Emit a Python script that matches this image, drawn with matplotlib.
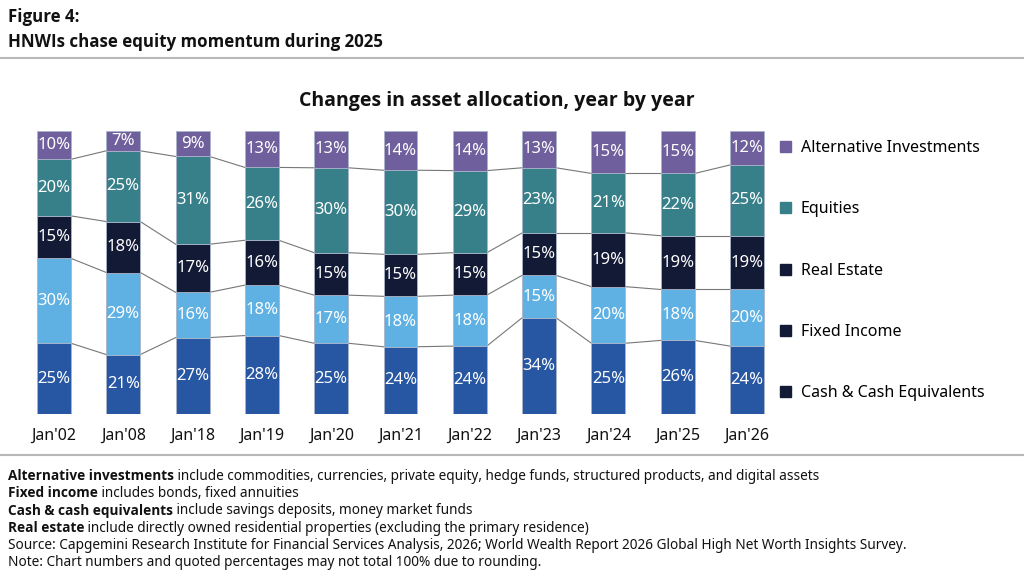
import numpy as np
import matplotlib
matplotlib.use("Agg")
import matplotlib.pyplot as plt
from matplotlib.patches import Patch

plt.rcParams['font.family'] = ['Noto Sans', 'DejaVu Sans']
BOLD = ['Open Sans', 'Lato', 'DejaVu Sans']

# -- data (bottom to top of each stack)
years = ["Jan'02", "Jan'08", "Jan'18", "Jan'19", "Jan'20", "Jan'21", "Jan'22", "Jan'23", "Jan'24", "Jan'25", "Jan'26"]
cash = [25, 21, 27, 28, 25, 24, 24, 34, 25, 26, 24]
fixed_income = [30, 29, 16, 18, 17, 18, 18, 15, 20, 18, 20]
real_estate = [15, 18, 17, 16, 15, 15, 15, 15, 19, 19, 19]
equities = [20, 25, 31, 26, 30, 30, 29, 23, 21, 22, 25]
alternatives = [10, 7, 9, 13, 13, 14, 14, 13, 15, 15, 12]

series_names = ['Cash & Cash Equivalents', 'Fixed Income', 'Real Estate', 'Equities', 'Alternative Investments']
colors = ['#2756a3', '#5fb1e3', '#131a35', '#37808a', '#6f5f9c']
legend_colors = ['#131a35', '#131a35', '#131a35', '#37808a', '#6f5f9c']  # as in the original legend

footnotes = [
    ("Alternative investments", " include commodities, currencies, private equity, hedge funds, structured products, and digital assets"),
    ("Fixed income", " includes bonds, fixed annuities"),
    ("Cash & cash equivalents", " include savings deposits, money market funds"),
    ("Real estate", " include directly owned residential properties (excluding the primary residence)"),
    ("", "Source: Capgemini Research Institute for Financial Services Analysis, 2026; World Wealth Report 2026 Global High Net Worth Insights Survey."),
    ("", "Note: Chart numbers and quoted percentages may not total 100% due to rounding."),
]

W, H = 1024, 583
fig = plt.figure(figsize=(W / 100, H / 100), dpi=100)

def fy(py):
    return 1 - py / H

ax = fig.add_axes([19.35 / W, fy(414), 762.3 / W, (414 - 131) / H])

data = np.array([cash, fixed_income, real_estate, equities, alternatives], dtype=float)
share = data / data.sum(axis=0) * 100  # stacks fill 100%
x = np.arange(len(years))
bw = 0.49
bottom = np.zeros(len(years))
for i in range(len(series_names)):
    ax.bar(x, share[i], bw, bottom=bottom, color=colors[i], edgecolor='#a9b4c8', linewidth=0.6, zorder=2)
    for xi, b, h, v in zip(x, bottom, share[i], data[i]):
        ax.text(xi, b + h / 2, f"{int(v)}%", ha='center', va='center', color='white', fontsize=12, zorder=3)
    bottom = bottom + share[i]
    # connector lines between neighbouring bars
    if i < len(series_names) - 1:
        for j in range(len(years) - 1):
            ax.plot([x[j] + bw / 2, x[j + 1] - bw / 2], [bottom[j], bottom[j + 1]], color='#777777', lw=0.8, zorder=1)

ax.set_xlim(-0.5, 10.5)
ax.set_ylim(0, 100)
ax.set_xticks(x)
ax.set_xticklabels(years, fontsize=11.5, color='#111111')
ax.tick_params(axis='x', length=0, pad=10)
ax.set_yticks([])
for s in ax.spines.values():
    s.set_visible(False)

handles = [Patch(color=c) for c in legend_colors[::-1]]
ax.legend(handles, series_names[::-1], loc='upper left', bbox_to_anchor=(780 / W, fy(140)), bbox_transform=fig.transFigure,
          frameon=False, fontsize=11.5, handlelength=0.7, handleheight=0.7, handletextpad=0.6, labelspacing=2.84,
          borderaxespad=0, borderpad=0)

# headings
fig.text(8 / W, fy(17), "Figure 4:", fontsize=12.2, fontweight='bold', family=BOLD, va='center', color='#111111')
fig.text(8 / W, fy(42), "HNWIs chase equity momentum during 2025", fontsize=12.2, fontweight='bold', family=BOLD, va='center', color='#111111')
fig.add_artist(plt.Line2D([0, 1], [fy(58), fy(58)], color='#b8b8b8', lw=1.5))
fig.text(497 / W, fy(101), "Changes in asset allocation, year by year", fontsize=14, fontweight='bold', family=BOLD, ha='center', va='center', color='#111111')
fig.add_artist(plt.Line2D([0, 1], [fy(455), fy(455)], color='#b8b8b8', lw=1.5))

# footnotes with bold lead-in
fig.canvas.draw()
renderer = fig.canvas.get_renderer()
for k, (bold, rest) in enumerate(footnotes):
    yy = fy(476 + k * 17.4)
    xx = 8 / W
    if bold:
        t = fig.text(xx, yy, bold, fontsize=9.8, fontweight='bold', va='center', family=BOLD, color='#111111')
        bb = t.get_window_extent(renderer)
        xx = bb.x1 / W
    fig.text(xx, yy, rest, fontsize=9.8, va='center', color='#111111')

fig.savefig('out.png', dpi=100)
